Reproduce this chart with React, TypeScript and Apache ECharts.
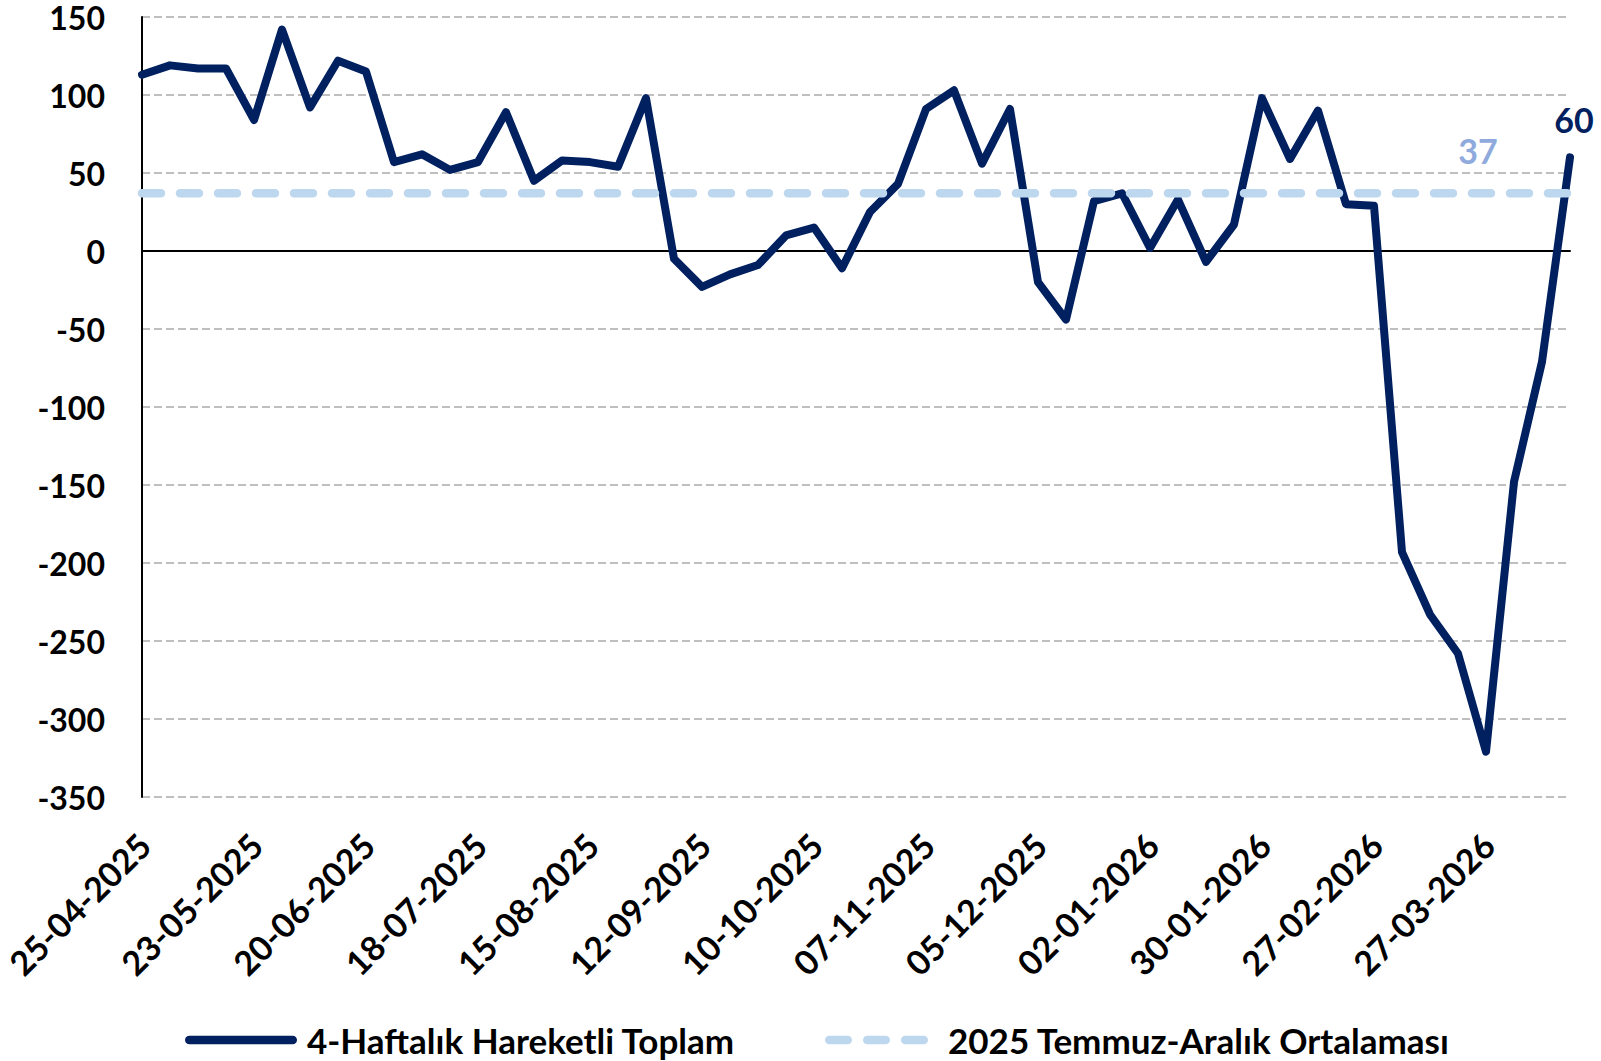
import React, { useEffect, useRef } from "react";
import * as echarts from "echarts";

const categories = [
  "25-04-2025", "02-05-2025", "09-05-2025", "16-05-2025", "23-05-2025", "30-05-2025",
  "06-06-2025", "13-06-2025", "20-06-2025", "27-06-2025", "04-07-2025", "11-07-2025",
  "18-07-2025", "25-07-2025", "01-08-2025", "08-08-2025", "15-08-2025", "22-08-2025",
  "29-08-2025", "05-09-2025", "12-09-2025", "19-09-2025", "26-09-2025", "03-10-2025",
  "10-10-2025", "17-10-2025", "24-10-2025", "31-10-2025", "07-11-2025", "14-11-2025",
  "21-11-2025", "28-11-2025", "05-12-2025", "12-12-2025", "19-12-2025", "26-12-2025",
  "02-01-2026", "09-01-2026", "16-01-2026", "23-01-2026", "30-01-2026", "06-02-2026",
  "13-02-2026", "20-02-2026", "27-02-2026", "06-03-2026", "13-03-2026", "20-03-2026",
  "27-03-2026", "03-04-2026", "10-04-2026", "17-04-2026",
];

const movingTotal = [
  113, 119, 117, 117, 84, 142, 92, 122, 115, 57,
  62, 52, 57, 89, 45, 58, 57, 54, 98, -5,
  -23, -15, -9, 10, 15, -11, 25, 43, 91, 103,
  56, 91, -20, -44, 32, 37, 2, 33, -7, 17,
  98, 59, 90, 30, 29, -193, -233, -258, -321, -148,
  -71, 60,
];

const averageValue = 37;
const averageLine = categories.map(() => averageValue);
const averageLabelIndex = 48;
const lastIndex = movingTotal.length - 1;

const seriesNames = ["4-Haftalık Hareketli Toplam", "2025 Temmuz-Aralık Ortalaması"];
const yMin = -350;
const yMax = 150;
const yStep = 50;

const FONT = "Lato, 'Open Sans', sans-serif";
const NAVY = "#002060";
const LIGHT = "#BDD7EE";
const LABEL_LIGHT = "#8FAADC";

// Legend icons: a rounded bar, and three rounded dashes
const solidIcon = "path://M4.25,0 H107.75 A4.25,4.25 0 0 1 107.75,8.5 H4.25 A4.25,4.25 0 0 1 4.25,0 Z";
const dashIcon =
  "path://M4.25,0 H22.75 A4.25,4.25 0 0 1 22.75,8.5 H4.25 A4.25,4.25 0 0 1 4.25,0 Z " +
  "M42.25,0 H60.75 A4.25,4.25 0 0 1 60.75,8.5 H42.25 A4.25,4.25 0 0 1 42.25,0 Z " +
  "M80.25,0 H98.75 A4.25,4.25 0 0 1 98.75,8.5 H80.25 A4.25,4.25 0 0 1 80.25,0 Z";

export default function App() {
  const ref = useRef<HTMLDivElement>(null);

  useEffect(() => {
    if (!ref.current) return;
    const chart = echarts.init(ref.current, undefined, { renderer: "svg" });

    const pointLabel = (color: string, distance: number, offset: number[]) => ({
      show: true,
      position: "top",
      distance,
      offset,
      color,
      fontFamily: FONT,
      fontWeight: "bold",
      fontSize: 34,
      formatter: "{c}",
    });

    const legendText = (padLeft: number) => ({
      fontFamily: FONT,
      fontWeight: "bold",
      fontSize: 35,
      lineHeight: 36,
      color: "#000",
      padding: [0, 0, 0, padLeft],
    });

    chart.setOption({
      animation: false,
      backgroundColor: "#fff",
      grid: { left: 142, right: 31, top: 17, bottom: 264, containLabel: false },
      legend: [
        {
          data: [{ name: seriesNames[0], icon: solidIcon }],
          left: 185,
          top: 1022,
          padding: 0,
          itemWidth: 112,
          itemHeight: 8.5,
          selectedMode: false,
          textStyle: legendText(5),
        },
        {
          data: [{ name: seriesNames[1], icon: dashIcon }],
          left: 825,
          top: 1022,
          padding: 0,
          itemWidth: 103,
          itemHeight: 8.5,
          selectedMode: false,
          textStyle: legendText(15),
        },
      ],
      xAxis: [
        {
          type: "category",
          data: categories,
          boundaryGap: false,
          axisLine: { show: false, onZero: false },
          axisTick: { show: false },
          splitLine: { show: false },
          axisLabel: {
            interval: 3,
            rotate: 45,
            margin: 20,
            align: "right",
            verticalAlign: "top",
            padding: [0, 14, 0, 0],
            fontFamily: FONT,
            fontWeight: "bold",
            fontSize: 34,
            color: "#000",
          },
        },
        {
          type: "category",
          data: categories,
          boundaryGap: false,
          z: 3,
          axisLine: { show: true, onZero: true, lineStyle: { color: "#000", width: 2 } },
          axisTick: { show: false },
          axisLabel: { show: false },
          splitLine: { show: false },
        },
      ],
      yAxis: {
        type: "value",
        min: yMin,
        max: yMax,
        interval: yStep,
        axisLine: { show: true, lineStyle: { color: "#000", width: 2 } },
        axisTick: { show: false },
        axisLabel: {
          margin: 37,
          fontFamily: FONT,
          fontWeight: "bold",
          fontSize: 32,
          lineHeight: 26,
          padding: [4, 0, 0, 0],
          color: "#000",
        },
        splitLine: { show: true, lineStyle: { color: "#BFBFBF", width: 2, type: [8, 4] } },
      },
      series: [
        {
          name: seriesNames[0],
          type: "line",
          xAxisIndex: 0,
          data: movingTotal,
          symbol: "none",
          z: 3,
          itemStyle: { color: NAVY },
          lineStyle: { color: NAVY, width: 8, cap: "round", join: "round" },
          markPoint: {
            symbol: "circle",
            symbolSize: 1,
            itemStyle: { color: "transparent" },
            label: pointLabel(NAVY, 20, [4, 0]),
            data: [{ coord: [categories[lastIndex], movingTotal[lastIndex]], value: movingTotal[lastIndex] }],
          },
        },
        {
          name: seriesNames[1],
          type: "line",
          xAxisIndex: 0,
          data: averageLine,
          symbol: "none",
          z: 4,
          itemStyle: { color: LIGHT },
          lineStyle: { color: LIGHT, width: 8.5, type: [19, 19], cap: "round" },
          markPoint: {
            symbol: "circle",
            symbolSize: 1,
            itemStyle: { color: "transparent" },
            label: pointLabel(LABEL_LIGHT, 25, [-8, 0]),
            data: [{ coord: [categories[averageLabelIndex], averageValue], value: averageValue }],
          },
        },
      ],
    });

    return () => chart.dispose();
  }, []);

  return (
    <div
      ref={ref}
      style={{ position: "fixed", left: 0, top: 0, width: 1601, height: 1061, background: "#fff" }}
    />
  );
}
